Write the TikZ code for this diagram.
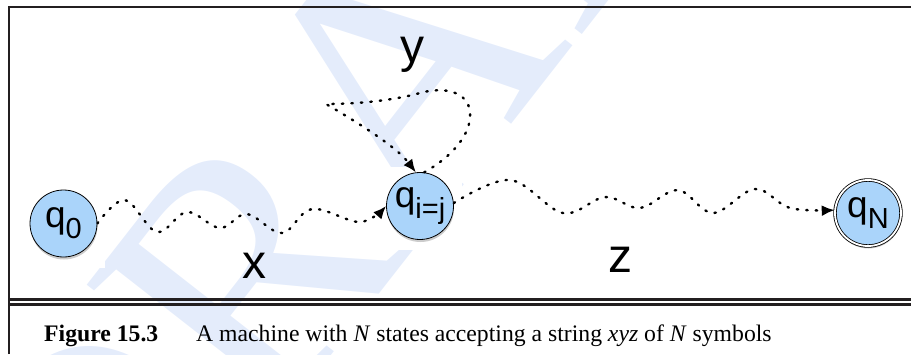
\documentclass[tikz,border=0pt]{standalone}
\usepackage{fontspec}
\setmainfont{Liberation Serif}
\newfontfamily\lsans{Liberation Sans}
\usetikzlibrary{arrows.meta,shadows}
\definecolor{wm}{RGB}{228,236,251}
\definecolor{nodeblue}{RGB}{170,212,250}
\definecolor{framecol}{RGB}{35,31,32}
\newcommand\qsub[1]{\raisebox{-11pt}{\fontsize{29}{29}\selectfont #1}}
\begin{document}
\begin{tikzpicture}[x=1pt,y=-1pt,
  state/.style={circle, draw=black, line width=0.8pt, fill=nodeblue, inner sep=0pt,
    minimum size=67pt, font=\lsans\fontsize{37}{37}\selectfont,
    drop shadow={opacity=0.4, shadow xshift=0.5pt, shadow yshift=-2.5pt}},
  accept/.style={state, double=white, double distance=1.8pt, minimum size=66pt},
  conn/.style={line width=2.4pt, dash pattern=on 1.5pt off 8pt, line cap=round,
    -{Latex[length=13pt,width=11pt]}},
  lbl/.style={font=\lsans\fontsize{48}{48}\selectfont, inner sep=0pt},
  rule/.style={draw=framecol, line width=2.3pt},
  patch/.style={fill=white, draw=none}]
\useasboundingbox (0,0) rectangle (911,354);
% watermark
\node[rotate=52, anchor=base, inner sep=0pt, text=wm,
  font=\fontsize{360}{360}\selectfont] (wmark) at (470,178) {DRAFT};
% white patches behind states
\fill[patch] (30,187) rectangle (105,268);
\fill[patch] (380,167) rectangle (462,250);
\fill[patch] (826,172) rectangle (911,258);
% frame
\draw[rule] (8.8,354) -- (8.8,6.7) -- (911,6.7);
\draw[rule] (8.8,299.5) -- (911,299.5);
\draw[rule] (8.8,304.5) -- (911,304.5);
% states
\node[state] (q0) at (63.5,223.5) {q\qsub{0}};
\node[state] (qij) at (420,206) {q\qsub{i=j}};
\node[accept] (qN) at (868,213) {q\qsub{N}};
% connectors
\draw[conn] plot[smooth, tension=0.6] coordinates {(q0.east) (125,200) (157,232) (187,212) (220,228) (247,214) (282,233) (312,209) (360,222) (qij.west)};
\draw[conn] plot[smooth, tension=0.6] coordinates {(qij.5) (510,180) (563,213) (605,197) (640,208) (678,190) (713,213) (755,189) (790,208) (qN.175)};
\draw[conn] (qij.83) .. controls (450,158) and (472,135) .. (470,112)
  .. controls (468,92) and (445,86) .. (420,93)
  .. controls (395,100) and (360,104) .. (326,104)
  .. controls (350,118) and (395,145) .. (qij.97);
% labels
\node[lbl] (ly) at (412,55) {y};
\node[lbl] (lx) at (254,266) {x};
\node[lbl] (lz) at (620,260) {z};
% caption
\node[anchor=base west, inner sep=0pt, font=\bfseries\fontsize{23.7}{23.7}\selectfont] (capnum) at (44,341) {Figure 15.3};
\node[anchor=base west, inner sep=0pt, font=\fontsize{23.7}{23.7}\selectfont] (captext) at (196,341) {A machine with \textit{N} states accepting a string \textit{xyz} of \textit{N} symbols};
\end{tikzpicture}
\end{document}
